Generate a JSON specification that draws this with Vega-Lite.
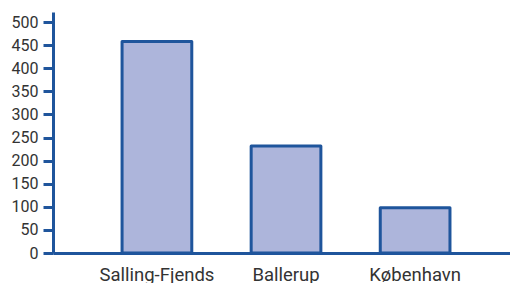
{
  "$schema": "https://vega.github.io/schema/vega-lite/v6.json",
  "width": 457,
  "height": 241,
  "autosize": {"type": "none"},
  "padding": {"left": 53, "top": 12, "right": 0, "bottom": 30},
  "background": "white",
  "config": {"view": {"stroke": null}},
  "data": {"values": [
    {"place": "Salling-Fjends", "value": 458},
    {"place": "Ballerup", "value": 232},
    {"place": "København", "value": 98}
  ]},
  "mark": {"type": "bar", "fill": "#adb5db", "stroke": "#1f559c", "strokeWidth": 3, "strokeJoin": "round"},
  "encoding": {
    "x": {"field": "place", "type": "nominal", "sort": null,
      "scale": {"paddingInner": 0.46, "paddingOuter": 0.5, "align": 0.535},
      "axis": {"title": null, "labelAngle": 0, "domainColor": "#1f559c", "domainWidth": 3, "ticks": false,
        "labelFont": "Roboto, sans-serif", "labelFontSize": 18.5, "labelColor": "#333333", "labelPadding": 12}},
    "y": {"field": "value", "type": "quantitative",
      "scale": {"domain": [0, 522], "nice": false},
      "axis": {"title": null, "values": [0, 50, 100, 150, 200, 250, 300, 350, 400, 450, 500], "grid": false,
        "domainColor": "#1f559c", "domainWidth": 3, "tickColor": "#1f559c", "tickWidth": 3, "tickSize": 10,
        "labelFont": "Roboto, sans-serif", "labelFontSize": 16, "labelColor": "#333333", "labelPadding": 5}}
  }
}
